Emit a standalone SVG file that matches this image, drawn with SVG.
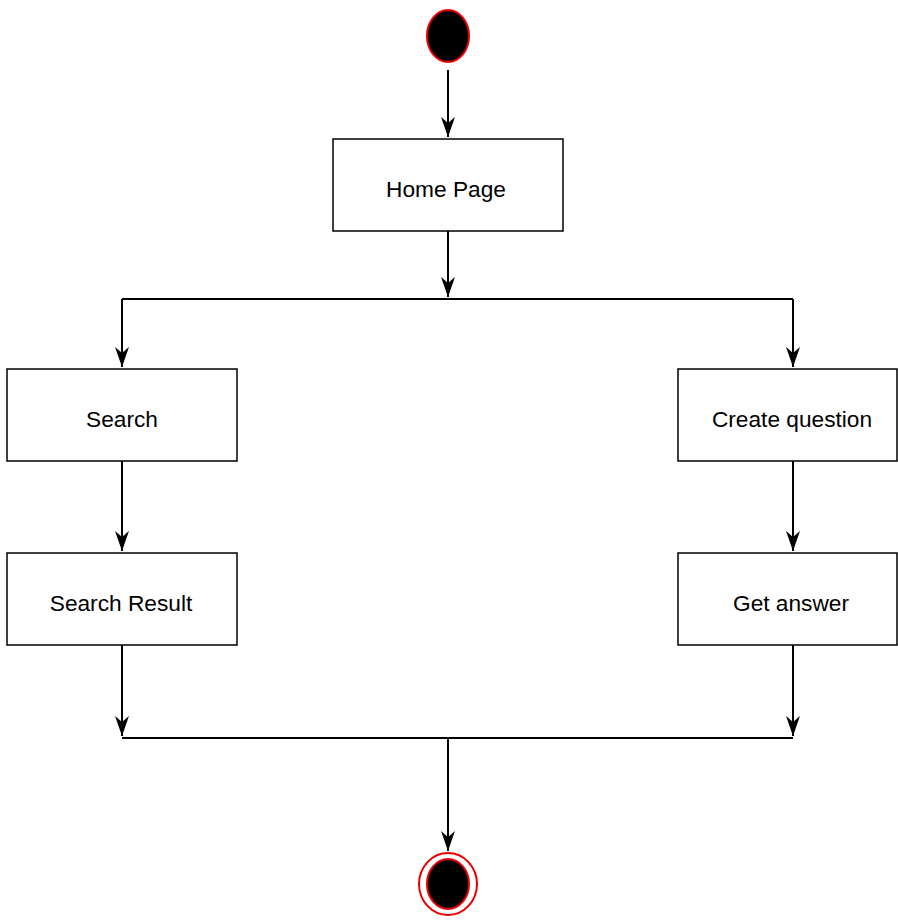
<svg xmlns="http://www.w3.org/2000/svg" width="898" height="922" viewBox="0 0 898 922">
<style>
.box{fill:#fff;stroke:#000;stroke-width:1.5}
.lbl{font-family:"Liberation Sans",Arial,sans-serif;font-size:22.7px;fill:#000;text-anchor:middle;dominant-baseline:central}
.edge{fill:none;stroke:#000;stroke-width:2}
.st{fill:#000;stroke:#e00;stroke-width:2}
</style>
<defs>
<marker id="arr" markerUnits="userSpaceOnUse" markerWidth="24" markerHeight="18" viewBox="-22 -9 24 18" refX="0" refY="0" orient="auto">
<path d="M0,0 L-20,-7 L-14,0 L-20,7 Z" fill="#000"/>
</marker>
</defs>
<rect width="898" height="922" fill="#fff"/>
<g id="connectors">
<path class="edge" d="M448,70 V137" marker-end="url(#arr)"/>
<path class="edge" d="M448,231 V297" marker-end="url(#arr)"/>
<path class="edge" d="M122,299 H793"/>
<path class="edge" d="M122,299 V367" marker-end="url(#arr)"/>
<path class="edge" d="M793,299 V367" marker-end="url(#arr)"/>
<path class="edge" d="M122,461 V551" marker-end="url(#arr)"/>
<path class="edge" d="M793,461 V551" marker-end="url(#arr)"/>
<path class="edge" d="M122,645 V736" marker-end="url(#arr)"/>
<path class="edge" d="M793,645 V736" marker-end="url(#arr)"/>
<path class="edge" d="M122,738 H793"/>
<path class="edge" d="M448,738 V851" marker-end="url(#arr)"/>
</g>
<g id="start"><ellipse class="st" cx="448" cy="36" rx="21" ry="26"/></g>
<g id="home"><rect class="box" x="333" y="139" width="230" height="92"/><text class="lbl" x="446" y="189">Home Page</text></g>
<g id="search"><rect class="box" x="7" y="369" width="230" height="92"/><text class="lbl" x="122" y="419">Search</text></g>
<g id="create"><rect class="box" x="678" y="369" width="219" height="92"/><text class="lbl" x="792" y="419">Create question</text></g>
<g id="result"><rect class="box" x="7" y="553" width="230" height="92"/><text class="lbl" x="121" y="603">Search Result</text></g>
<g id="answer"><rect class="box" x="678" y="553" width="219" height="92"/><text class="lbl" x="791" y="603">Get answer</text></g>
<g id="end">
<ellipse cx="448" cy="884" rx="29" ry="31" fill="#fff" stroke="#e00" stroke-width="2"/>
<ellipse class="st" cx="448" cy="884" rx="21" ry="25"/>
</g>
</svg>
